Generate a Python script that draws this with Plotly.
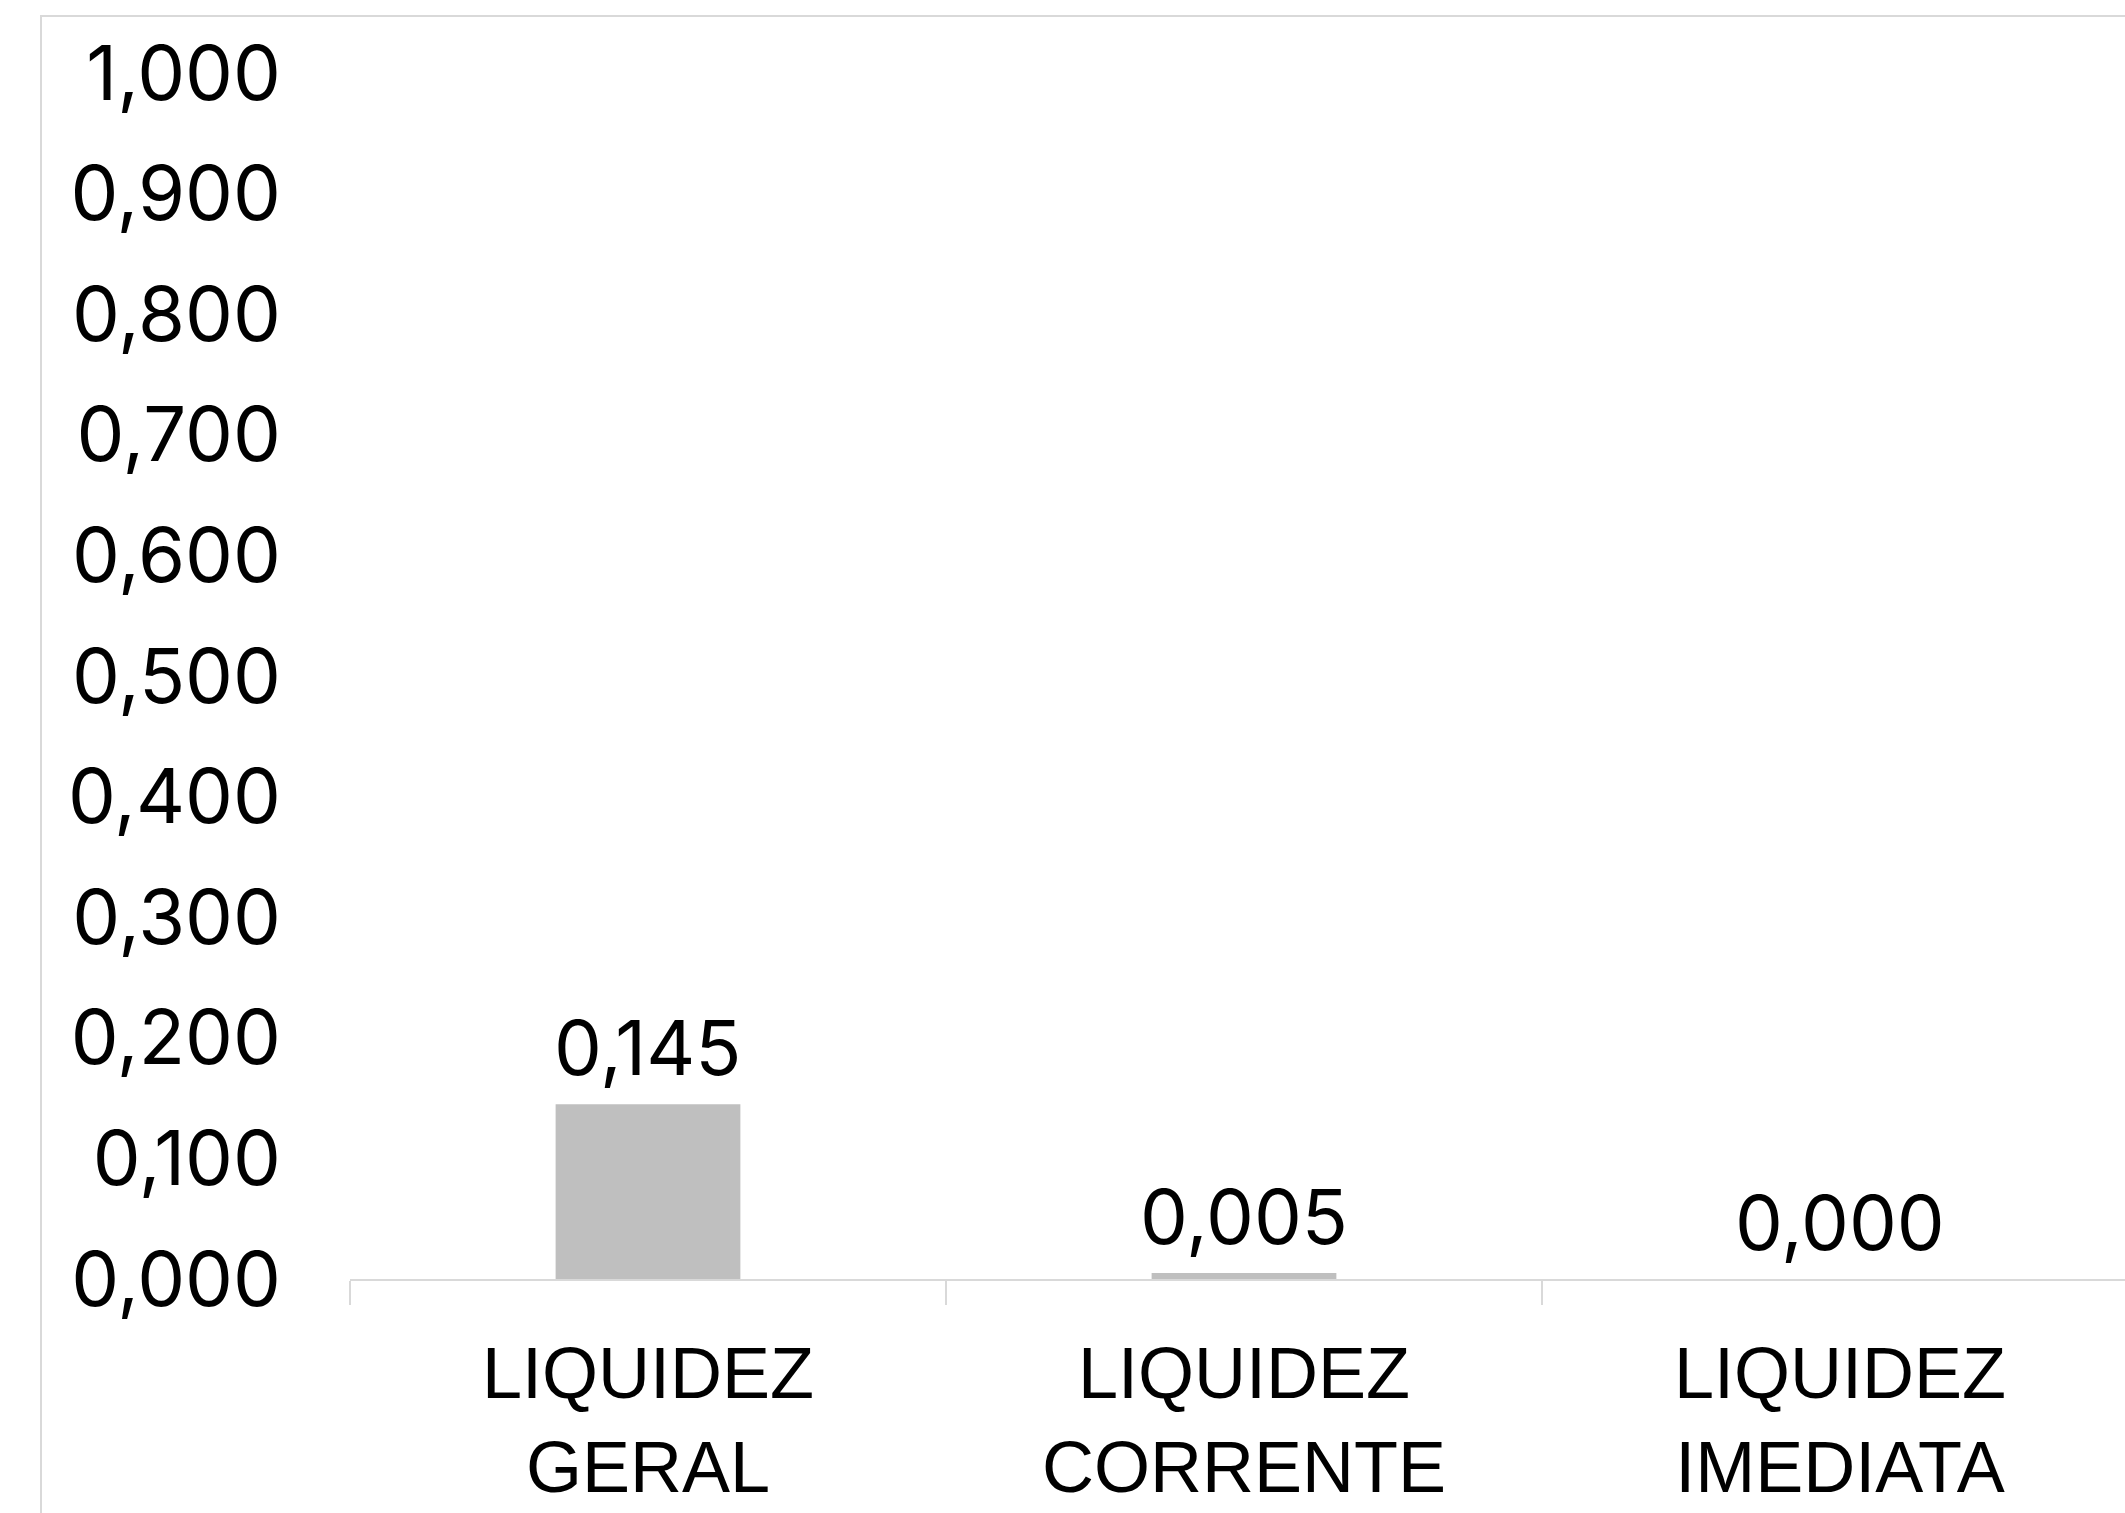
import plotly.graph_objects as go

# Liquidity ratios
categories = ["LIQUIDEZ<br>GERAL", "LIQUIDEZ<br>CORRENTE", "LIQUIDEZ<br>IMEDIATA"]
values = [0.145, 0.005, 0.000]
y_ticks = [0.0, 0.1, 0.2, 0.3, 0.4, 0.5, 0.6, 0.7, 0.8, 0.9, 1.0]

GRAY_LINE = "#d9d9d9"
BAR_COLOR = "#bfbfbf"
NUM_FONT = dict(family="Inter, Lato, sans-serif", size=76, color="#000000")
CAT_FONT = dict(family="Liberation Sans, Arial, sans-serif", size=72, color="#000000")

W, H = 2125, 1513
M_L, M_R, M_T, M_B = 350, 0, 73, 234

fig = go.Figure()
fig.add_trace(go.Bar(
    x=categories,
    y=values,
    width=0.31,
    marker=dict(color=BAR_COLOR, line=dict(width=0)),
    hoverinfo="skip",
))

# value labels above each bar
for cat, v in zip(categories, values):
    fig.add_annotation(
        x=cat, y=v, xref="x", yref="y",
        text=f"{v:.3f}".replace(".", ","),
        showarrow=False, yanchor="bottom", yshift=9,
        font=NUM_FONT,
    )

# outer chart frame
plot_w = W - M_L - M_R
plot_h = H - M_T - M_B
fig.add_shape(
    type="rect", xref="paper", yref="paper",
    x0=(41 - M_L) / plot_w, x1=1.02,
    y0=-0.25, y1=(plot_h + M_T - 16) / plot_h,
    line=dict(color=GRAY_LINE, width=2), fillcolor="rgba(0,0,0,0)",
    layer="below",
)

fig.update_layout(
    width=W, height=H,
    margin=dict(l=M_L, r=M_R, t=M_T, b=M_B),
    paper_bgcolor="white", plot_bgcolor="white",
    separators=",.",
    showlegend=False,
)
fig.update_xaxes(
    type="category",
    range=[-0.5, -0.5 + plot_w / 596],
    showline=True, linecolor=GRAY_LINE, linewidth=2,
    ticks="outside", tickson="boundaries", ticklen=24,
    tickcolor=GRAY_LINE, tickwidth=2,
    tickfont=CAT_FONT,
    ticklabelstandoff=31,
    showgrid=False, zeroline=False,
)
fig.update_yaxes(
    range=[0, 1.0],
    tickvals=y_ticks,
    tickformat=".3f",
    tickfont=NUM_FONT,
    ticks="", showline=False, showgrid=False, zeroline=False,
    ticklabelstandoff=68,
)

fig.write_html("out.html")
